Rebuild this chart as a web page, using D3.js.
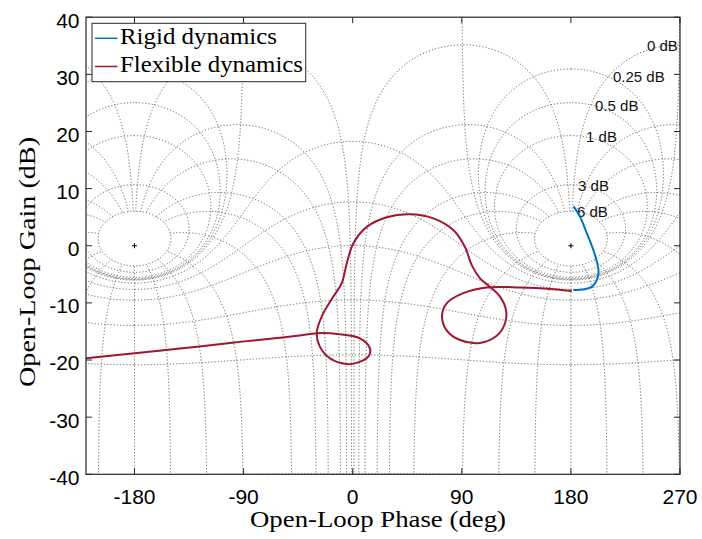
<!DOCTYPE html>
<html><head><meta charset="utf-8">
<script src="https://cdn.jsdelivr.net/npm/d3@7"></script>
<style>body{margin:0;background:#fff}</style>
</head><body><svg id="c" width="702" height="539"></svg>
<script>
// ---------------- data ----------------
const xTicks = [-180, -90, 0, 90, 180, 270];
const yTicks = [-40, -30, -20, -10, 0, 10, 20, 30, 40];
const xDomain = [-220, 270];
const yDomain = [-40, 40];
// Nichols grid: closed-loop gain (dB) and closed-loop phase (deg) contours
const mContoursDb = [6, 3, 1, 0.5, 0.25, 0, -1, -3, -6, -12, -20, -40];
const nContoursDeg = [-1, -5, -10, -20, -30, -50, -90, -120, -150, -180, -210, -240, -270, -310, -330, -340, -350, -355, -359];
const gainLabels = ["0 dB", "0.25 dB", "0.5 dB", "1 dB", "3 dB", "6 dB"];
const gainLabelPhase = [242.8, 214.7, 199.9, 192.5, 185.9, 185.0];
const gainLabelGain = [35.0, 29.5, 24.45, 19.0, 10.45, 5.9];
const criticalPhase = [-180, 180];
// series
const seriesNames = ["Rigid dynamics", "Flexible dynamics"];
const rigidPhase = [182.2, 187.5, 193.1, 198.5, 201.8, 202.8, 200.7, 197.2, 191.6, 182.0];
const rigidGain  = [6.9, 5.1, 2.2, -0.75, -3.1, -4.8, -6.3, -7.2, -7.6, -7.75];
const flexPhase = [-220, -183.7, -142.5, -101.2, -64.1, -43.5, -29.7, -10.5, 6.0, 14.3, 12.9, 3.3, -4.9, -18.7, -27.0, -29.7, -25.6, -16.0, -9.1, -4.9, 0.5, 11.6, 28.1, 47.3, 66.5, 83.0, 92.6, 98.2, 105.0, 113.3, 121.5, 126.5, 125.6, 118.8, 105.0, 88.5, 77.5, 73.7, 77.5, 91.2, 110.5, 138.0, 165.5, 180.7];
const flexGain  = [-19.7, -18.9, -18.0, -17.0, -16.2, -15.7, -15.3, -15.5, -16.2, -18.0, -19.4, -20.5, -20.7, -19.7, -17.7, -15.3, -12.4, -8.9, -6.6, -3.1, 0.4, 3.3, 5.0, 5.5, 4.8, 2.75, -0.2, -3.4, -5.7, -7.2, -8.9, -11.3, -13.6, -15.75, -17.0, -16.5, -14.8, -12.4, -10.1, -8.3, -7.3, -7.3, -7.6, -7.9];
const seriesColors = ["#0072BD", "#A2142F"];

// ---------------- layout ----------------
const L = 86, R = 680, T = 17.2, B = 474.3;
const svg = d3.select("#c");
svg.append("rect").attr("width", 702).attr("height", 539).attr("fill", "#fff");
const x = d3.scaleLinear().domain(xDomain).range([L, R]);
const y = d3.scaleLinear().domain(yDomain).range([B, T]);

svg.append("clipPath").attr("id", "clip").append("rect")
  .attr("x", L).attr("y", T).attr("width", R - L).attr("height", B - T);

// ---------------- grid computation ----------------
function cl2ol(mag, th) { // closed-loop T -> open-loop G = T/(1-T)
  const tr = mag * Math.cos(th), ti = mag * Math.sin(th);
  const dr = 1 - tr, di = -ti;
  const den = dr * dr + di * di;
  const gr = (tr * dr + ti * di) / den, gi = (ti * dr - tr * di) / den;
  return [Math.atan2(gi, gr) * 180 / Math.PI, 20 * Math.log10(Math.hypot(gr, gi))];
}
function unwrap(pts) {
  for (let i = 1; i < pts.length; i++) {
    let d = pts[i][0] - pts[i - 1][0];
    while (d > 180) { pts[i][0] -= 360; d -= 360; }
    while (d < -180) { pts[i][0] += 360; d += 360; }
  }
  return pts;
}
function decimate(pts) {
  const out = [];
  let lx = null, ly = null;
  pts.forEach((p, i) => {
    const px = x(p[0]), py = y(p[1]);
    if (lx === null || Math.hypot(px - lx, py - ly) > 0.6 || i === pts.length - 1) {
      out.push(p); lx = px; ly = py;
    }
  });
  return out;
}
const gridPaths = [];
const NS = 20000;
mContoursDb.forEach(db => {
  const m = Math.pow(10, db / 20);
  let pts = [];
  if (db > 0) {
    for (let i = 0; i <= NS; i++) {
      const th = 2 * Math.PI * i / NS;
      const p = cl2ol(m, th); if (p[0] < 0) p[0] += 360; pts.push(p);
    }
    [-360, 0].forEach(k => gridPaths.push(pts.map(p => [p[0] + k, p[1]])));
  } else if (db === 0) {
    for (let i = 0; i <= NS; i++) {
      const th = 1e-5 + (2 * Math.PI - 2e-5) * i / NS;
      const p = cl2ol(1, th); if (p[0] < 0) p[0] += 360; pts.push(p);
    }
    [-360, 0].forEach(k => gridPaths.push(pts.map(p => [p[0] + k, p[1]])));
  } else {
    for (let i = 0; i <= NS; i++) {
      const th = -Math.PI + 2 * Math.PI * i / NS;
      pts.push(cl2ol(m, th));
    }
    unwrap(pts);
    const off = pts[0][0] > 0 ? -360 : 0;
    pts = pts.map(p => [p[0] + off, p[1]]);
    [-360, 0, 360].forEach(k => gridPaths.push(pts.map(p => [p[0] + k, p[1]])));
  }
});
nContoursDeg.forEach(psi => {
  const th = psi * Math.PI / 180;
  const pts = [];
  const lo = -4, hi = 6 / 20;
  for (let i = 0; i <= NS; i++) {
    const m = Math.pow(10, lo + (hi - lo) * i / NS);
    pts.push(cl2ol(m, th));
  }
  pts[0][0] = psi;
  unwrap(pts);
  [0, 360].forEach(k => gridPaths.push(pts.map(p => [p[0] + k, p[1]])));
});

const line = d3.line().x(d => x(d[0])).y(d => y(d[1]));
const gridG = svg.append("g").attr("clip-path", "url(#clip)");
gridG.selectAll("path.grid").data(gridPaths.map(decimate)).join("path")
  .attr("class", "grid").attr("d", line)
  .attr("fill", "none").attr("stroke", "#555").attr("stroke-width", 0.9)
  .attr("stroke-dasharray", "1.2,2");

// critical point markers
gridG.selectAll("path.crit").data(criticalPhase).join("path")
  .attr("class", "crit")
  .attr("d", d => `M${x(d) - 2.5},${y(0)}h5M${x(d)},${y(0) - 2.5}v5`)
  .attr("stroke", "#000").attr("stroke-width", 1);

// gain labels
svg.selectAll("text.glab").data(gainLabels).join("text")
  .attr("class", "glab")
  .attr("x", (d, i) => x(gainLabelPhase[i])).attr("y", (d, i) => y(gainLabelGain[i]))
  .attr("dy", "0.35em")
  .attr("font-family", "Liberation Sans, Arial, sans-serif").attr("font-size", 15)
  .attr("fill", "#111").text(d => d);

// ---------------- series ----------------
const curve = d3.line().x(d => x(d[0])).y(d => y(d[1])).curve(d3.curveCatmullRom.alpha(0.5));
const series = [d3.zip(rigidPhase, rigidGain), d3.zip(flexPhase, flexGain)];
svg.append("g").attr("clip-path", "url(#clip)")
  .selectAll("path").data(series).join("path")
  .attr("d", curve).attr("fill", "none")
  .attr("stroke", (d, i) => seriesColors[i]).attr("stroke-width", 2);

// ---------------- axes frame ----------------
const ax = svg.append("g");
ax.append("rect").attr("x", L).attr("y", T).attr("width", R - L).attr("height", B - T)
  .attr("fill", "none").attr("stroke", "#262626").attr("stroke-width", 1.2);
const tk = 6;
xTicks.forEach(v => {
  ax.append("line").attr("x1", x(v)).attr("x2", x(v)).attr("y1", B).attr("y2", B - tk).attr("stroke", "#262626");
  ax.append("line").attr("x1", x(v)).attr("x2", x(v)).attr("y1", T).attr("y2", T + tk).attr("stroke", "#262626");
});
yTicks.forEach(v => {
  ax.append("line").attr("y1", y(v)).attr("y2", y(v)).attr("x1", L).attr("x2", L + tk).attr("stroke", "#262626");
  ax.append("line").attr("y1", y(v)).attr("y2", y(v)).attr("x1", R).attr("x2", R - tk).attr("stroke", "#262626");
});
const fmt = d => String(d);
ax.selectAll("text.xt").data(xTicks).join("text").attr("class", "xt")
  .attr("x", d => x(d)).attr("y", 504).attr("text-anchor", "middle")
  .attr("font-family", "Liberation Sans, Arial, sans-serif").attr("font-size", 21)
  .attr("fill", "#000").text(fmt);
ax.selectAll("text.yt").data(yTicks).join("text").attr("class", "yt")
  .attr("x", 79.5).attr("y", d => y(d) + 3).attr("dy", "0.35em").attr("text-anchor", "end")
  .attr("font-family", "Liberation Sans, Arial, sans-serif").attr("font-size", 21)
  .attr("fill", "#000").text(fmt);

// axis labels
svg.append("text").attr("x", 378).attr("y", 527.3).attr("text-anchor", "middle")
  .attr("font-family", "Liberation Serif, Times New Roman, serif").attr("font-size", 24)
  .attr("textLength", 256).attr("lengthAdjust", "spacingAndGlyphs")
  .text("Open-Loop Phase (deg)");
svg.append("text").attr("transform", "translate(35,262) rotate(-90)").attr("text-anchor", "middle")
  .attr("font-family", "Liberation Serif, Times New Roman, serif").attr("font-size", 24)
  .attr("textLength", 250).attr("lengthAdjust", "spacingAndGlyphs")
  .text("Open-Loop Gain (dB)");

// ---------------- legend ----------------
const lg = svg.append("g");
lg.append("rect").attr("x", 92).attr("y", 23.3).attr("width", 213.7).attr("height", 58.4)
  .attr("fill", "#fff").attr("stroke", "#262626").attr("stroke-width", 1);
const lgY = [38.3, 66.5];
const lgW = [157, 183];
seriesNames.forEach((n, i) => {
  lg.append("line").attr("x1", 95).attr("x2", 117.5).attr("y1", lgY[i]).attr("y2", lgY[i])
    .attr("stroke", seriesColors[i]).attr("stroke-width", 1.5);
  lg.append("text").attr("x", 120).attr("y", lgY[i] + 5.3)
    .attr("font-family", "Liberation Serif, Times New Roman, serif").attr("font-size", 23)
    .attr("textLength", lgW[i]).attr("lengthAdjust", "spacingAndGlyphs").text(n);
});
</script></body></html>
